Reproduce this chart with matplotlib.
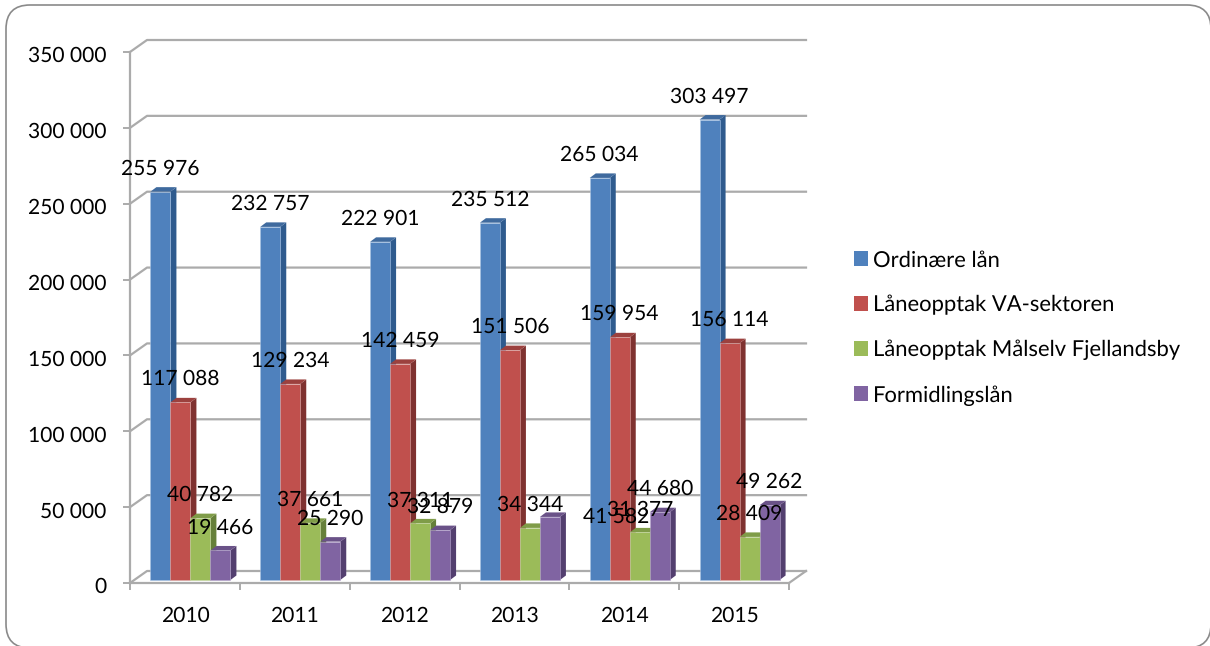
import matplotlib
matplotlib.use("Agg")
import matplotlib.pyplot as plt
from matplotlib.patches import FancyBboxPatch, Patch, Polygon
from matplotlib.transforms import ScaledTranslation

years = ["2010", "2011", "2012", "2013", "2014", "2015"]
ordinaere = [255976, 232757, 222901, 235512, 265034, 303497]
va_sektoren = [117088, 129234, 142459, 151506, 159954, 156114]
maalselv = [40782, 37661, 37311, 34344, 31377, 28409]
formidling = [19466, 25290, 32879, 41582, 44680, 49262]
series_names = ["Ordinære lån", "Låneopptak VA-sektoren", "Låneopptak Målselv Fjellandsby", "Formidlingslån"]
y_ticks = [0, 50000, 100000, 150000, 200000, 250000, 300000, 350000]

plt.rcParams["font.family"] = ["Lato", "DejaVu Sans"]
plt.rcParams["text.hinting"] = "no_hinting"
plt.rcParams["text.hinting_factor"] = 1
FONT_SIZE = 15.3
LEGEND_SIZE = 16.2
GRID = "#ababab"
front = ["#4f81bd", "#c0504d", "#9bbb59", "#8064a2"]
side = ["#2f5b8e", "#7f3230", "#66803a", "#533f6f"]
top = ["#3f6a9e", "#9c413e", "#7f9c48", "#6a5288"]
edge = ["#a9c4e4", "#dba9a7", "#c6d8a4", "#b5a5cc"]

W, H = 1210, 646
fig = plt.figure(figsize=(W / 100, H / 100), dpi=100)

# rounded frame round the whole chart, in pixels (runs off the right and bottom edge)
frame = FancyBboxPatch((6, -2), 1205, 643, boxstyle="round,pad=0,rounding_size=24",
                       transform=None, fc="white", ec="#8a8a8a", lw=1.2, zorder=-1)
fig.add_artist(frame)

ax = fig.add_axes([130 / W, (H - 583) / H, 659 / W, 531 / H])
ax.patch.set_alpha(0)
ax.set_xlim(0, 6)
ax.set_ylim(0, 350000)
px_x = 6 / 659
px_y = 350000 / 531

# fake 3d: back wall sits 17 px right and 12 px up from the front plane
wall_dx, wall_dy = 17 * px_x, 12 * px_y
for v in y_ticks:
    ax.plot([0, wall_dx, 6 + wall_dx], [v, v + wall_dy, v + wall_dy], color=GRID, lw=1.6, clip_on=False, zorder=1)
ax.plot([6, 6 + wall_dx], [0, wall_dy], color=GRID, lw=1.6, clip_on=False, zorder=1)

bar_w = 20 * px_x
start_dx, start_dy = 5.5 * px_x, 3 * px_y
depth_dx, depth_dy = 6 * px_x, 4.5 * px_y
all_series = [ordinaere, va_sektoren, maalselv, formidling]
# labels that were moved by hand in the original, (series, year): (dx, dy) px
moved = {(3, 3): (66, -23)}

for j, vals in enumerate(all_series):
    for i, v in enumerate(vals):
        x0 = i + 0.5 + (j - 2) * bar_w + start_dx
        x1 = x0 + bar_w
        y0 = start_dy
        y1 = v + start_dy
        zo = 3 + j * 0.1
        ax.add_patch(Polygon([(x1, y0), (x1 + depth_dx, y0 + depth_dy), (x1 + depth_dx, y1 + depth_dy), (x1, y1)],
                             fc=side[j], ec="none", clip_on=False, zorder=zo))
        ax.add_patch(Polygon([(x0, y1), (x1, y1), (x1 + depth_dx, y1 + depth_dy), (x0 + depth_dx, y1 + depth_dy)],
                             fc=top[j], ec="none", clip_on=False, zorder=zo))
        ax.bar(x0, v, bar_w, bottom=y0, align="edge", color=front[j], edgecolor=edge[j], lw=0.4, zorder=zo + 0.01, clip_on=False)
        off_x, off_y = moved.get((j, i), (0, 0))
        ax.annotate(f"{v:,}".replace(",", " "), (x0 + bar_w / 2, y1), xytext=(off_x * 0.72, (23 + off_y) * 0.72),
                    textcoords="offset points", ha="center", va="center", fontsize=FONT_SIZE, color="black", zorder=10)

for s in ["top", "right"]:
    ax.spines[s].set_visible(False)
for s in ["left", "bottom"]:
    ax.spines[s].set_color(GRID)
    ax.spines[s].set_linewidth(1.6)
    ax.spines[s].set_zorder(2)

ax.set_yticks(y_ticks)
ax.set_yticklabels([f"{v:,}".replace(",", " ") for v in y_ticks], fontsize=FONT_SIZE)
ax.tick_params(axis="y", length=5, width=1.4, color=GRID, pad=12)
# y labels sit a bit under their ticks in the original
nudge = ScaledTranslation(0, -2.5 / 100, fig.dpi_scale_trans)
for lab in ax.get_yticklabels():
    lab.set_transform(lab.get_transform() + nudge)
ax.set_xticks(range(7))
ax.set_xticklabels([])
ax.tick_params(axis="x", which="major", length=5, width=1.4, color=GRID)
ax.set_xticks([i + 0.5 for i in range(6)], minor=True)
ax.set_xticklabels(years, minor=True, fontsize=FONT_SIZE)
ax.tick_params(axis="x", which="minor", length=0, pad=17)

handles = [Patch(fc=c, ec="none") for c in front]
fig.legend(handles, series_names, loc="center left", bbox_to_anchor=(854 / W, 1 - 328 / H), frameon=False,
           fontsize=LEGEND_SIZE, handlelength=0.63, handleheight=0.63, handletextpad=0.2, labelspacing=1.1,
           borderpad=0, borderaxespad=0)

fig.savefig("out.png", dpi=100)
